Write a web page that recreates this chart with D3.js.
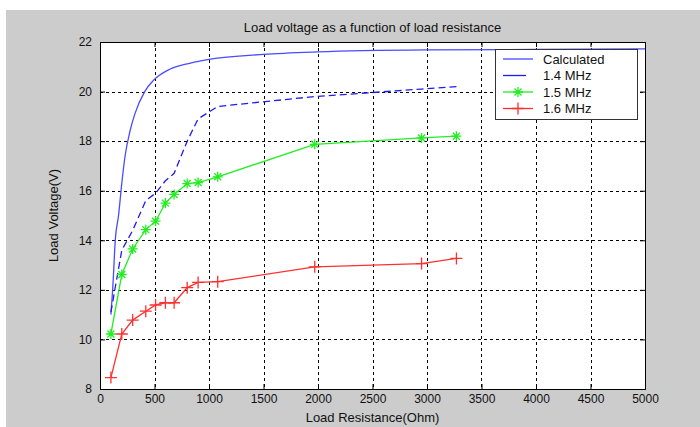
<!DOCTYPE html>
<meta charset="utf-8">
<script src="https://d3js.org/d3.v7.js"></script>
<style>
  body { margin: 0; background: #fff; }
  text { font-family: "Liberation Sans", Arial, sans-serif; fill: #111; }
</style>
<div id="my_dataviz"></div>
<script>
    // calculated curve
    var calcR = [100, 120, 140, 170, 200, 230, 275, 320, 410, 490, 640, 830, 1000, 1500, 2000, 3000, 4000, 5000];
    var calcV = [11.0, 12.3, 14.0, 15.0, 16.3, 17.4, 18.4, 19.1, 20.0, 20.45, 20.9, 21.15, 21.3, 21.5, 21.6, 21.68, 21.7, 21.72];

    // measured load resistances
    var loadR = [100, 200, 300, 420, 510, 600, 680, 800, 900, 1080, 1970, 2950, 3270];
    var v14 = [11.1, 13.6, 14.4, 15.6, 15.9, 16.4, 16.7, 18.0, 18.9, 19.4, 19.8, 20.1, 20.2];
    var v15 = [10.22, 12.62, 13.65, 14.43, 14.77, 15.5, 15.85, 16.29, 16.33, 16.56, 17.87, 18.13, 18.2];
    var v16 = [8.46, 10.22, 10.78, 11.14, 11.39, 11.48, 11.48, 12.09, 12.3, 12.33, 12.93, 13.06, 13.27];

    var legendLabels = ["Calculated", "1.4 MHz", "1.5 MHz", "1.6 MHz"];
    var xTicks = d3.range(0, 5001, 500);
    var yTicks = d3.range(8, 23, 2);

    var W = 700, H = 427;
    var margin = {top: 42, right: 55, bottom: 38, left: 100};

    var svg = d3.select("#my_dataviz").append("svg")
        .attr("width", W).attr("height", H);

    // figure background
    svg.append("rect").attr("x", 6).attr("y", 10)
        .attr("width", W - 6).attr("height", H - 10).attr("fill", "#cccccc");

    var x = d3.scaleLinear().domain([0, 5000]).range([margin.left, W - margin.right]);
    var y = d3.scaleLinear().domain([8, 22]).range([H - margin.bottom, margin.top]);

    svg.append("rect")
        .attr("x", x(0)).attr("y", y(22))
        .attr("width", x(5000) - x(0)).attr("height", y(8) - y(22))
        .attr("fill", "#fff");

    // grid
    var grid = svg.append("g").attr("stroke", "#000").attr("stroke-width", 1)
        .attr("stroke-dasharray", "3,3").attr("shape-rendering", "crispEdges");
    grid.selectAll(".vg").data(xTicks.slice(1, -1)).enter().append("line")
        .attr("x1", d => Math.round(x(d)) + 0.5).attr("x2", d => Math.round(x(d)) + 0.5)
        .attr("y1", y(22)).attr("y2", y(8));
    grid.selectAll(".hg").data(yTicks.slice(1, -1)).enter().append("line")
        .attr("y1", d => Math.round(y(d)) + 0.5).attr("y2", d => Math.round(y(d)) + 0.5)
        .attr("x1", x(0)).attr("x2", x(5000));

    // axes (ticks inside, box on all four sides)
    svg.append("g").attr("transform", "translate(0," + y(8) + ")")
        .call(d3.axisBottom(x).tickValues(xTicks).tickSize(-5).tickPadding(5).tickFormat(d3.format("d")));
    svg.append("g").attr("transform", "translate(0," + y(22) + ")")
        .call(d3.axisTop(x).tickValues(xTicks).tickSize(-5).tickFormat(""));
    svg.append("g").attr("transform", "translate(" + x(0) + ",0)")
        .call(d3.axisLeft(y).tickValues(yTicks).tickSize(-5).tickPadding(8));
    svg.append("g").attr("transform", "translate(" + x(5000) + ",0)")
        .call(d3.axisRight(y).tickValues(yTicks).tickSize(-5).tickFormat(""));
    svg.selectAll(".domain").attr("stroke", "#000");
    svg.selectAll(".tick line").attr("stroke", "#000");
    svg.selectAll(".tick text").style("font-size", "12px").attr("fill", "#111");

    var line = d3.line().x(d => x(d[0])).y(d => y(d[1]));

    svg.append("path").datum(d3.zip(calcR, calcV))
        .attr("d", line.curve(d3.curveMonotoneX)).attr("fill", "none").attr("stroke", "#4a4aff").attr("stroke-width", 1.3);
    line.curve(d3.curveLinear);

    svg.append("path").datum(d3.zip(loadR, v14))
        .attr("d", line).attr("fill", "none").attr("stroke", "#1c1cf0").attr("stroke-width", 1.3)
        .attr("stroke-dasharray", "7,4");

    svg.append("path").datum(d3.zip(loadR, v15))
        .attr("d", line).attr("fill", "none").attr("stroke", "#22ee22").attr("stroke-width", 1.3);

    svg.append("path").datum(d3.zip(loadR, v16))
        .attr("d", line).attr("fill", "none").attr("stroke", "#ff3030").attr("stroke-width", 1.3);

    function star(g, cx, cy, color) {
        var r = 5;
        var p = "M" + (cx - r) + "," + cy + "H" + (cx + r) + "M" + cx + "," + (cy - r) + "V" + (cy + r) +
            "M" + (cx - 3.5) + "," + (cy - 3.5) + "L" + (cx + 3.5) + "," + (cy + 3.5) +
            "M" + (cx - 3.5) + "," + (cy + 3.5) + "L" + (cx + 3.5) + "," + (cy - 3.5);
        g.append("path").attr("d", p).attr("stroke", color).attr("stroke-width", 1.3).attr("fill", "none");
    }
    function plus(g, cx, cy, color) {
        var r = 6;
        var p = "M" + (cx - r) + "," + cy + "H" + (cx + r) + "M" + cx + "," + (cy - r) + "V" + (cy + r);
        g.append("path").attr("d", p).attr("stroke", color).attr("stroke-width", 1.3).attr("fill", "none");
    }

    var mk = svg.append("g");
    loadR.forEach(function (r, i) {
        star(mk, x(r), y(v15[i]), "#22ee22");
        plus(mk, x(r), y(v16[i]), "#ff3030");
    });

    // legend
    var lg = svg.append("g");
    lg.append("rect").attr("x", 495.5).attr("y", 49.5).attr("width", 142).attr("height", 70)
        .attr("fill", "#fff").attr("stroke", "#333");
    var lgColors = ["#4a4aff", "#1c1cf0", "#22ee22", "#ff3030"];
    legendLabels.forEach(function (t, i) {
        var cy = 59 + i * 16.5;
        var x2 = i === 1 ? 526 : 533;
        lg.append("line").attr("x1", 503).attr("x2", x2).attr("y1", cy).attr("y2", cy)
            .attr("stroke", lgColors[i]).attr("stroke-width", 1.3);
        if (i === 2) star(lg, 518, cy, lgColors[i]);
        if (i === 3) plus(lg, 518, cy, lgColors[i]);
        lg.append("text").attr("x", 543).attr("y", cy + 4.5).style("font-size", "13px").text(t);
    });

    // labels
    svg.append("text").attr("x", (x(0) + x(5000)) / 2).attr("y", 32)
        .attr("text-anchor", "middle").style("font-size", "13px")
        .text("Load voltage as a function of load resistance");
    svg.append("text").attr("x", (x(0) + x(5000)) / 2).attr("y", 422)
        .attr("text-anchor", "middle").style("font-size", "13px")
        .text("Load Resistance(Ohm)");
    svg.append("text")
        .attr("transform", "translate(58," + ((y(8) + y(22)) / 2) + ") rotate(-90)")
        .attr("text-anchor", "middle").style("font-size", "13px")
        .text("Load Voltage(V)");
</script>
